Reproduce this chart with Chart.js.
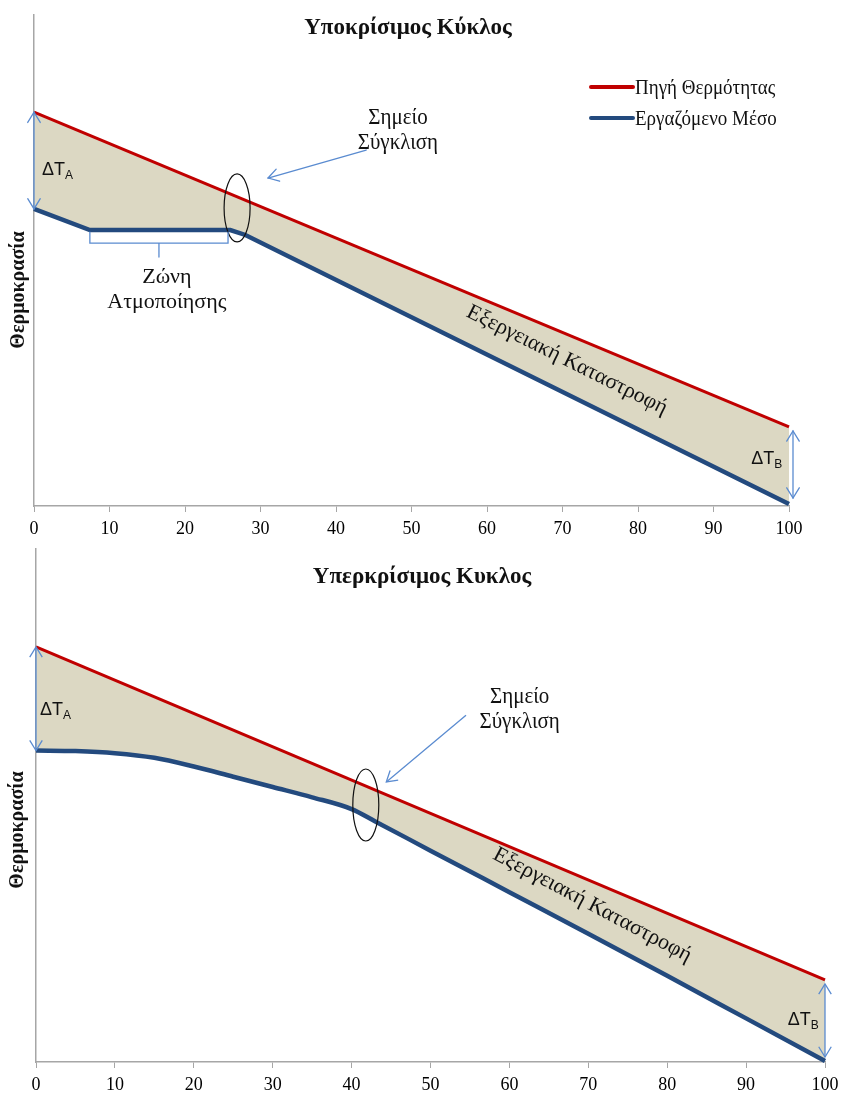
<!DOCTYPE html>
<html>
<head>
<meta charset="utf-8">
<script src="https://cdn.jsdelivr.net/npm/chart.js@4.4.0/dist/chart.umd.min.js"></script>
<style>
  body { margin: 0; background: #fff; }
  .box { position: absolute; left: 0; width: 841px; }
</style>
</head>
<body>
<div class="box" style="top:0;height:540px"><canvas id="subChart"></canvas></div>
<div class="box" style="top:540px;height:555px"><canvas id="superChart"></canvas></div>
<script>
// x = percent of heat transferred, y = relative temperature (no units on the original)
const xTicks = [0, 10, 20, 30, 40, 50, 60, 70, 80, 90, 100];
const seriesNames = ["Πηγή Θερμότητας", "Εργαζόμενο Μέσο"];
const yTitle = "Θερμοκρασία";

// subcritical cycle
const subSourceX = [0, 100];
const subSourceT = [80.2, 16.1];
const subFluidX = [0, 7.4, 26, 28, 100];
const subFluidT = [60.5, 56.2, 56.2, 55.2, 0.4];

// supercritical cycle
const superSourceX = [0, 100];
const superSourceT = [80.9, 16.0];
const superFluidX = [0, 5, 10, 15, 20, 25, 30, 35, 40, 43, 50, 60, 70, 80, 90, 100];
const superFluidT = [60.7, 60.6, 60.2, 59.3, 57.6, 55.6, 53.6, 51.6, 49.3, 46.9, 41.2, 33.1, 25.0, 16.8, 8.5, 0.2];

const RED = "#c00000";
const BLUE = "#234a7e";
const FILL = "#dcd8c3";
const ARROW = "#5a8bd0";
const SERIF = "'Liberation Serif', 'Times New Roman', serif";
const SANS = "'Liberation Sans', Arial, sans-serif";

function pts(xs, ys) {
    return xs.map(function (x, i) { return { x: x, y: ys[i] }; });
}

function head(ctx, x, y, ang) {
    // open V arrow head, tip at (x,y), pointing in direction ang
    const len = 12, spread = 0.55;
    ctx.beginPath();
    ctx.moveTo(x - len * Math.cos(ang - spread), y - len * Math.sin(ang - spread));
    ctx.lineTo(x, y);
    ctx.lineTo(x - len * Math.cos(ang + spread), y - len * Math.sin(ang + spread));
    ctx.stroke();
}

function label(ctx, text, x, y, font, angle, sy) {
    ctx.save();
    ctx.font = font;
    ctx.textAlign = "center";
    ctx.textBaseline = "middle";
    ctx.fillStyle = "#111";
    ctx.translate(x, y);
    ctx.rotate((angle || 0) * Math.PI / 180);
    ctx.scale(1, sy || 1);
    ctx.fillText(text, 0, 0);
    ctx.restore();
}

const decorPlugin = {
    id: "decor",
    afterDatasetsDraw(chart, args, opts) {
        const ctx = chart.ctx;
        const sx = chart.scales.x, sy = chart.scales.y;
        const P = function (x, y) { return [sx.getPixelForValue(x), sy.getPixelForValue(y)]; };
        ctx.save();
        (opts.items || []).forEach(function (it) {
            ctx.lineWidth = 1.3;
            ctx.strokeStyle = ARROW;
            ctx.fillStyle = "#111";
            if (it.type === "title") {
                label(ctx, it.text, it.px, it.py, "bold 23px " + SERIF);
            } else if (it.type === "ytitle") {
                label(ctx, yTitle, it.px, it.py, "bold 20px " + SERIF, -90);
            } else if (it.type === "darrow") {
                const a = P(it.x, it.y1), b = P(it.x, it.y2);
                const x = a[0] + (it.dx || 0);
                const y1 = a[1] + (it.d1 || 0), y2 = b[1] + (it.d2 || 0);
                ctx.beginPath();
                ctx.moveTo(x, y1);
                ctx.lineTo(x, y2);
                ctx.stroke();
                head(ctx, x, y1, -Math.PI / 2);
                head(ctx, x, y2, Math.PI / 2);
            } else if (it.type === "arrow") {
                const a = P(it.x1, it.y1), b = P(it.x2, it.y2);
                ctx.beginPath();
                ctx.moveTo(a[0], a[1]);
                ctx.lineTo(b[0], b[1]);
                ctx.stroke();
                head(ctx, b[0], b[1], Math.atan2(b[1] - a[1], b[0] - a[0]));
            } else if (it.type === "ellipse") {
                const c = P(it.x, it.y);
                ctx.strokeStyle = "#111";
                ctx.lineWidth = 1.2;
                ctx.beginPath();
                ctx.ellipse(c[0], c[1], it.rx, it.ry, 0, 0, Math.PI * 2);
                ctx.stroke();
            } else if (it.type === "text") {
                const c = P(it.x, it.y);
                label(ctx, it.text, c[0], c[1], (it.size || 21) + "px " + SERIF, it.angle, it.sy);
            } else if (it.type === "delta") {
                const c = P(it.x, it.y);
                ctx.textBaseline = "middle";
                ctx.font = "18px " + SANS;
                const w1 = ctx.measureText("ΔT").width;
                ctx.font = "12px " + SANS;
                const w2 = ctx.measureText(it.sub).width;
                const left = it.align === "right" ? c[0] - w1 - w2 : c[0];
                ctx.textAlign = "left";
                ctx.font = "18px " + SANS;
                ctx.fillText("ΔT", left, c[1]);
                ctx.font = "12px " + SANS;
                ctx.fillText(it.sub, left + w1, c[1] + 6);
            } else if (it.type === "brace") {
                const a = P(it.x1, it.y), b = P(it.x2, it.y);
                const top = a[1] + 2, mid = a[1] + 13, tip = a[1] + 27;
                const cx = (a[0] + b[0]) / 2;
                ctx.beginPath();
                ctx.moveTo(a[0], top);
                ctx.lineTo(a[0], mid);
                ctx.lineTo(b[0], mid);
                ctx.lineTo(b[0], top);
                ctx.moveTo(cx, mid);
                ctx.lineTo(cx, tip);
                ctx.stroke();
            } else if (it.type === "legend") {
                const ds = chart.data.datasets;
                ds.forEach(function (d, i) {
                    const y = it.py + i * 31;
                    ctx.strokeStyle = d.borderColor;
                    ctx.lineWidth = 4;
                    ctx.lineCap = "round";
                    ctx.beginPath();
                    ctx.moveTo(it.px, y);
                    ctx.lineTo(it.px + 42, y);
                    ctx.stroke();
                    ctx.save();
                    ctx.font = "19px " + SERIF;
                    ctx.textAlign = "left";
                    ctx.textBaseline = "middle";
                    ctx.fillStyle = "#111";
                    ctx.translate(it.px + 44, y + 1);
                    ctx.scale(1, 1.15);
                    ctx.fillText(d.label, 0, 0);
                    ctx.restore();
                });
            }
        });
        ctx.restore();
    }
};

function makeChart(id, srcX, srcT, fluidX, fluidT, layout, items) {
    return new Chart(document.getElementById(id), {
        type: "line",
        data: {
            datasets: [
                {
                    label: seriesNames[0],
                    data: pts(srcX, srcT),
                    borderColor: RED,
                    borderWidth: 3,
                    backgroundColor: FILL,
                    fill: "+1",
                    pointRadius: 0,
                    clip: false
                },
                {
                    label: seriesNames[1],
                    data: pts(fluidX, fluidT),
                    borderColor: BLUE,
                    borderWidth: 4.5,
                    pointRadius: 0,
                    cubicInterpolationMode: layout.curve,
                    fill: false,
                    clip: false
                }
            ]
        },
        options: {
            responsive: true,
            maintainAspectRatio: false,
            animation: false,
            layout: { padding: layout.padding },
            plugins: {
                legend: { display: false },
                tooltip: { enabled: false },
                filler: { drawTime: "beforeDatasetsDraw" },
                decor: { items: items }
            },
            scales: {
                x: {
                    type: "linear",
                    min: 0,
                    max: 100,
                    afterBuildTicks: function (scale) {
                        scale.ticks = xTicks.map(function (v) { return { value: v }; });
                    },
                    afterFit: function (scale) {
                        scale.height = layout.xHeight;
                        // let the last tick label run past the plot edge, as in the original
                        scale.paddingLeft = 0;
                        scale.paddingRight = 0;
                    },
                    ticks: {
                        color: "#000",
                        padding: 6,
                        maxRotation: 0,
                        font: { family: SERIF, size: 18 }
                    },
                    grid: { drawOnChartArea: false, drawTicks: true, tickLength: 6, color: "#a6a6a6" },
                    border: { color: "#a6a6a6", width: 1.5 }
                },
                y: {
                    min: 0,
                    max: 100,
                    afterFit: function (scale) { scale.width = layout.yWidth; },
                    ticks: { display: false },
                    grid: { drawOnChartArea: false, drawTicks: false, color: "#a6a6a6" },
                    border: { color: "#a6a6a6", width: 1.5 }
                }
            }
        },
        plugins: [decorPlugin]
    });
}

makeChart("subChart", subSourceX, subSourceT, subFluidX, subFluidT,
    { padding: { top: 15, right: 52, left: 0, bottom: 0 }, xHeight: 34, yWidth: 34, curve: "default" },
    [
        { type: "title", text: "Υποκρίσιμος Κύκλος", px: 408, py: 28 },
        { type: "ytitle", px: 19, py: 290 },
        { type: "legend", px: 591, py: 87 },
        { type: "darrow", x: 0, y1: subSourceT[0], y2: subFluidT[0] },
        { type: "delta", sub: "A", x: 1.06, y: 68.4 },
        { type: "darrow", x: 100, dx: 4, d1: 4, d2: -6, y1: subSourceT[1], y2: subFluidT[subFluidT.length - 1] },
        { type: "delta", sub: "B", x: 99.1, y: 9.6, align: "right" },
        { type: "ellipse", x: 26.9, y: 60.7, rx: 13, ry: 34 },
        { type: "arrow", x1: 44.0, y1: 72.5, x2: 31.0, y2: 66.8 },
        { type: "text", text: "Σημείο", x: 48.2, y: 79.0, sy: 1.1 },
        { type: "text", text: "Σύγκλιση", x: 48.2, y: 74.0, sy: 1.1 },
        { type: "brace", x1: 7.4, x2: 25.7, y: 56.2 },
        { type: "text", text: "Ζώνη", x: 17.6, y: 46.6, size: 22 },
        { type: "text", text: "Ατμοποίησης", x: 17.6, y: 41.5, size: 22 },
        { type: "text", text: "Εξεργειακή Καταστροφή", x: 70.6, y: 29.7, angle: 26.5, size: 22 }
    ]);

makeChart("superChart", superSourceX, superSourceT, superFluidX, superFluidT,
    { padding: { top: 9, right: 16, left: 0, bottom: 0 }, xHeight: 33, yWidth: 36, curve: "monotone" },
    [
        { type: "title", text: "Υπερκρίσιμος Κυκλος", px: 422, py: 37 },
        { type: "ytitle", px: 18, py: 290 },
        { type: "darrow", x: 0, y1: superSourceT[0], y2: superFluidT[0] },
        { type: "delta", sub: "A", x: 0.5, y: 68.6 },
        { type: "darrow", x: 100, dx: 0, d1: 4, d2: -4, y1: superSourceT[1], y2: superFluidT[superFluidT.length - 1] },
        { type: "delta", sub: "B", x: 99.2, y: 8.2, align: "right" },
        { type: "ellipse", x: 41.8, y: 50.1, rx: 13, ry: 36 },
        { type: "arrow", x1: 54.5, y1: 67.6, x2: 44.4, y2: 54.6 },
        { type: "text", text: "Σημείο", x: 61.3, y: 71.2, sy: 1.1 },
        { type: "text", text: "Σύγκλιση", x: 61.3, y: 66.3, sy: 1.1 },
        { type: "text", text: "Εξεργειακή Καταστροφή", x: 70.5, y: 30.6, angle: 28, size: 22 }
    ]);
</script>
</body>
</html>
